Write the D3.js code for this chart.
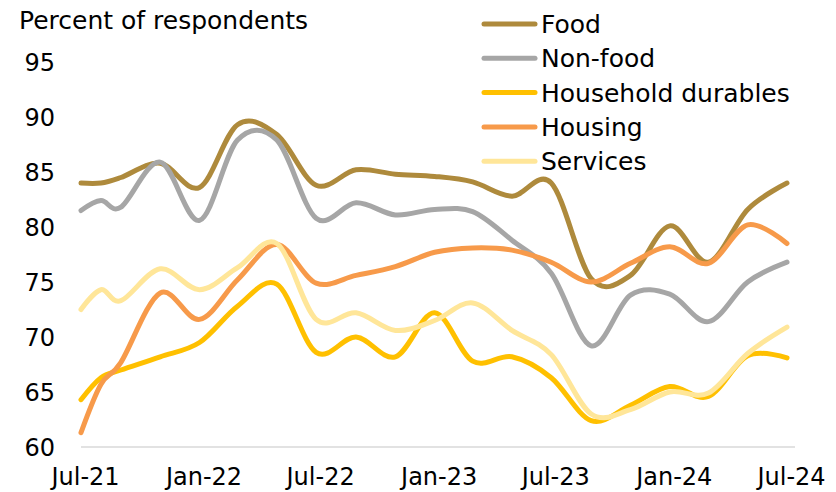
<!DOCTYPE html>
<html>
<head>
<meta charset="utf-8">
<script src="https://cdn.jsdelivr.net/npm/d3@7"></script>
<style>
  body { margin: 0; background: #fff; }
  text { font-family: "DejaVu Sans", Verdana, sans-serif; fill: #000; }
</style>
</head>
<body>
<script>
// survey waves (monthly at the start, then every two months)
var dates = ["2021-07","2021-08","2021-09","2021-11","2022-01","2022-03","2022-05","2022-07",
  "2022-09","2022-11","2023-01","2023-03","2023-05","2023-07","2023-09","2023-11",
  "2024-01","2024-03","2024-05","2024-07"];

var food       = [84.0,84.0,84.5,85.8,83.6,89.3,88.4,83.8,85.2,84.8,84.6,84.1,82.8,84.0,75.3,75.6,80.1,76.8,81.6,84.0];
var nonFood    = [81.5,82.4,81.8,85.9,80.6,87.9,87.9,80.8,82.2,81.1,81.6,81.4,78.8,75.8,69.2,73.8,73.9,71.4,75.0,76.8];
var durables   = [64.3,66.3,67.0,68.2,69.5,72.8,74.8,68.6,70.0,68.2,72.2,67.8,68.2,66.3,62.4,63.8,65.5,64.6,68.3,68.1];
var housing    = [61.3,65.7,67.7,74.0,71.6,75.2,78.4,74.9,75.6,76.4,77.7,78.1,77.9,76.8,75.0,76.7,78.2,76.7,80.2,78.5];
var services   = [72.5,74.3,73.3,76.2,74.3,76.3,78.5,71.6,72.2,70.6,71.5,73.1,70.6,68.4,63.0,63.4,65.0,64.9,68.5,70.9];

var seriesNames  = ["Food","Non-food","Household durables","Housing","Services"];
var seriesValues = [food, nonFood, durables, housing, services];
var colors       = ["#AE8A3C","#A6A6A6","#FFC000","#F79A4A","#FFE699"];

var yTicks = [60,65,70,75,80,85,90,95];
var xTicks = ["2021-07","2022-01","2022-07","2023-01","2023-07","2024-01","2024-07"];

var width = 836, height = 492;
var parseMonth = d3.timeParse("%Y-%m");

var svg = d3.select("body").append("svg")
    .attr("width", width)
    .attr("height", height);

var x = d3.scaleTime()
    .domain([parseMonth("2021-07"), parseMonth("2024-07")])
    .range([81, 787]);
var y = d3.scaleLinear().domain([60, 95]).range([447, 62]);

// baseline
svg.append("line")
    .attr("x1", 81).attr("x2", 795)
    .attr("y1", y(60)).attr("y2", y(60))
    .attr("stroke", "#D9D9D9")
    .attr("stroke-width", 1.5);

// y axis labels
var yAxis = svg.append("g")
    .attr("transform", "translate(55,1)")
    .call(d3.axisLeft(y).tickValues(yTicks).tickSize(0).tickPadding(0));
yAxis.select(".domain").remove();
yAxis.selectAll("text")
    .style("font-family", "DejaVu Sans, sans-serif")
    .style("font-size", "24px")
    .attr("fill", "#000");

// x axis labels
var xAxis = svg.append("g")
    .attr("transform", "translate(4," + y(60) + ")")
    .call(d3.axisBottom(x)
      .tickValues(xTicks.map(parseMonth))
      .tickFormat(d3.timeFormat("%b-%y"))
      .tickSize(0).tickPadding(0));
xAxis.select(".domain").remove();
xAxis.selectAll("text")
    .attr("dy", null)
    .attr("y", 38)
    .style("font-family", "DejaVu Sans, sans-serif")
    .style("font-size", "24px")
    .attr("fill", "#000");

// title
svg.append("text")
    .attr("x", 19).attr("y", 29)
    .style("font-size", "25px")
    .text("Percent of respondents");

var line = d3.line()
    .x(function(d) { return x(d.date); })
    .y(function(d) { return y(d.value); })
    .curve(d3.curveCardinal.tension(0));

seriesValues.forEach(function(vals, i) {
  var data = vals.map(function(v, j) { return {date: parseMonth(dates[j]), value: v}; });
  svg.append("path")
      .datum(data)
      .attr("fill", "none")
      .attr("stroke", colors[i])
      .attr("stroke-width", 5)
      .attr("stroke-linecap", "round")
      .attr("stroke-linejoin", "round")
      .attr("d", line);
});

// legend
var legend = svg.append("g");
seriesNames.forEach(function(name, i) {
  var ly = 24 + i * 34.3;
  legend.append("line")
      .attr("x1", 484).attr("x2", 535)
      .attr("y1", ly).attr("y2", ly)
      .attr("stroke", colors[i])
      .attr("stroke-width", 5)
      .attr("stroke-linecap", "round");
  legend.append("text")
      .attr("x", 541).attr("y", ly + 9)
      .style("font-size", "25px")
      .text(name);
});
</script>
</body>
</html>
